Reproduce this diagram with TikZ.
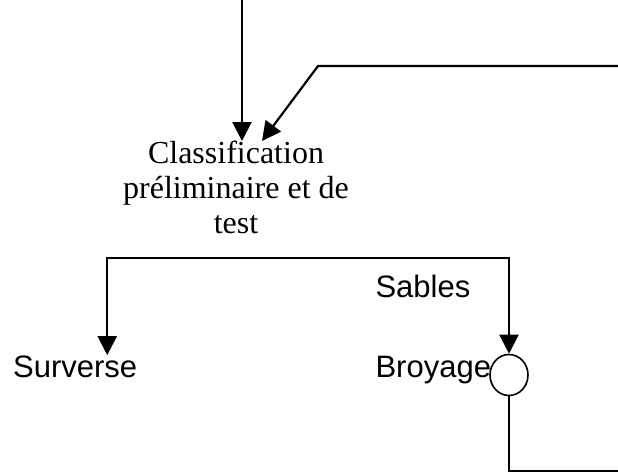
\documentclass[tikz,border=0pt]{standalone}
\usepackage{fontspec}
\setmainfont{Liberation Serif}
\newfontfamily\arial{Liberation Sans}
\usetikzlibrary{shapes.geometric, arrows.meta, positioning, calc}

\begin{document}
\begin{tikzpicture}[
    x=1pt, y=-1pt,
    txt/.style={inner sep=0pt, align=center, font={\fontsize{32}{35}\selectfont}},
    lbl/.style={inner sep=0pt, font={\arial\fontsize{31}{34}\selectfont}},
    arrow/.style={-{Triangle[length=19pt,width=19pt]}, line width=2.2pt},
    link/.style={line width=2.2pt},
]
    \useasboundingbox (0,0) rectangle (618,474);

    \node[txt, anchor=north] (class) at (236,141) {Classification\\préliminaire et de\\test};
    \node[draw, ellipse, minimum width=38pt, minimum height=41pt, inner sep=0pt, line width=1.6pt] (mill) at (509,375) {};
    \node[lbl, anchor=base east] (broy) at ([xshift=2pt,yshift=-2pt]mill.west) {Broyage};
    \node[lbl, anchor=base west] (sab) at ([yshift=80pt]broy.base west) {Sables};
    \node[lbl, anchor=base west] (surv) at (13,377) {Surverse};

    \coordinate (in) at (242,0);
    \coordinate (rec) at (618,66);
    \coordinate (bend) at (318,66);
    \coordinate (split) at (236,258);
    \coordinate (out) at (618,471);

    \draw[arrow] (in) -- (in |- class.north);
    \draw[arrow] (rec) -- (bend) -- ([xshift=26pt]class.north);
    \draw[arrow] (split) -| ([xshift=32pt]surv.north);
    \draw[arrow] (split) -| (mill.north);
    \draw[link] (mill.south) |- (out);
\end{tikzpicture}
\end{document}
